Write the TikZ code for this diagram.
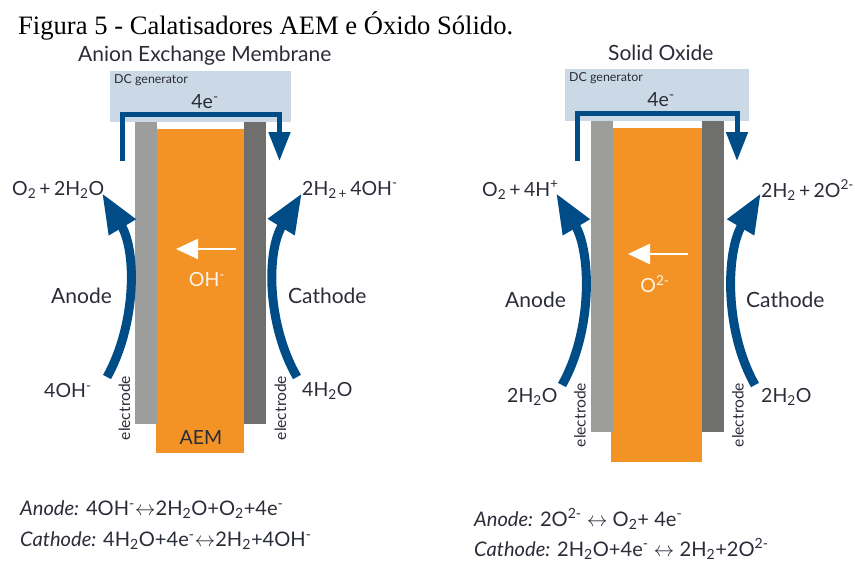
\documentclass[tikz,border=0pt]{standalone}
\usepackage{fontspec}
\setmainfont{Lato}
\newfontfamily\capfont{Liberation Serif}
\usepackage{xcolor}
\usetikzlibrary{arrows.meta,positioning}
\definecolor{flowblue}{HTML}{004C86}
\definecolor{memorange}{HTML}{F39325}
\definecolor{dcblue}{HTML}{CBD9E7}
\definecolor{elecA}{HTML}{9D9D9C}
\definecolor{elecC}{HTML}{6F6F6E}
\definecolor{inkdark}{HTML}{2A2C38}
\tikzset{plate/.style={anchor=north west,inner sep=0pt,outer sep=0pt},
  lab/.style={anchor=west,inner sep=0pt,text=inkdark,font=\fontsize{19.5}{21}\selectfont},
  word/.style={lab,font=\fontsize{21}{23}\selectfont},
  eqn/.style={lab,font=\fontsize{20.1}{22}\selectfont},
  dclab/.style={lab,font=\fontsize{12.4}{14}\selectfont},
  elab/.style={rotate=90,inner sep=0pt,text=inkdark,font=\fontsize{15.6}{17}\selectfont},
  wire/.style={draw=flowblue,line width=5pt,-{Triangle[length=29pt,width=21pt]}},
  flow/.style={draw=flowblue,line width=9pt,-{Triangle[length=40pt,width=29pt]}},
  ion/.style={draw=white,line width=2.4pt,-{Triangle[length=22pt,width=20pt]}}}

\begin{document}
\begin{tikzpicture}[x=1pt,y=-1pt]
\useasboundingbox (0,0) rectangle (855,562);
\node[anchor=west,inner sep=0pt,font=\capfont\fontsize{26.6}{28}\selectfont] (cap) at (18,26) {Figura 5 - Calatisadores AEM e Óxido Sólido.};
% anion exchange membrane
\node[word] (titleA) at (78,56) {Anion Exchange Membrane};
\node[plate,fill=dcblue,minimum width=181pt,minimum height=51pt] (dcA) at (110,71) {};
\node[plate,fill=memorange,minimum width=88pt,minimum height=324pt] (aem) at (156,129) {};
\node[plate,fill=elecA,minimum width=22pt,minimum height=302pt] (anA) at (135,122) {};
\node[plate,fill=elecC,minimum width=22pt,minimum height=302pt] (caA) at (244,122) {};
\node[dclab] (dclabA) at (114,80) {DC generator};
\node[lab,anchor=center] (eA) at (205,102) {4e\textsuperscript{-}};
\coordinate (w1A) at (122,161); \coordinate (w2A) at (122,114);
\coordinate (w3A) at (279.5,114); \coordinate (w4A) at (279.5,161);
\draw[wire] (w1A) -- (w2A) -- (w3A) -- (w4A);
\node[lab] (prodAnA) at (12,190) {O\textsubscript{2}\,+\,2H\textsubscript{2}O};
\node[lab] (prodCaA) at (302,190) {2H\textsubscript{2\,+}\,4OH\textsuperscript{-}};
\node[lab] (reacAnA) at (44,391) {4OH\textsuperscript{-}};
\node[lab] (reacCaA) at (302,391) {4H\textsubscript{2}O};
\node[word] (anodeA) at (51,296) {Anode};
\node[word] (cathA) at (288,296) {Cathode};
\coordinate (tailAnA) at (107,377); \coordinate (tipAnA) at (102,193);
\coordinate (tailCaA) at (297,377); \coordinate (tipCaA) at (302,193);
\draw[flow] (tailAnA) .. controls (136,325) and (137,252) .. (tipAnA);
\draw[flow] (tailCaA) .. controls (267,325) and (266,252) .. (tipCaA);
\coordinate (ionTailA) at (236,249); \coordinate (ionTipA) at (176,249);
\draw[ion] (ionTailA) -- (ionTipA);
\node[lab,anchor=center,text=white!90!memorange] (ionA) at (207,280) {OH\textsuperscript{-}};
\node[lab,anchor=center] (memA) at (201,438) {AEM};
\node[elab] (elecAnA) at (124.5,408) {electrode};
\node[elab] (elecCaA) at (280.5,408) {electrode};
\node[eqn] (eqAnA) at (20,510) {\textit{Anode:} 4OH\textsuperscript{-}$\leftrightarrow$2H\textsubscript{2}O+O\textsubscript{2}+4e\textsuperscript{-}};
\node[eqn] (eqCaA) at (20,541) {\textit{Cathode:} 4H\textsubscript{2}O+4e\textsuperscript{-}$\leftrightarrow$2H\textsubscript{2}+4OH\textsuperscript{-}};
% solid oxide
\node[word] (titleS) at (608,53) {Solid Oxide};
\node[plate,fill=dcblue,minimum width=184pt,minimum height=52pt] (dcS) at (565,69) {};
\node[plate,fill=memorange,minimum width=91pt,minimum height=334pt] (oxide) at (611,128) {};
\node[plate,fill=elecA,minimum width=22pt,minimum height=311pt] (anS) at (591,121) {};
\node[plate,fill=elecC,minimum width=22pt,minimum height=311pt] (caS) at (702,121) {};
\node[dclab] (dclabS) at (569,78) {DC generator};
\node[lab,anchor=center] (eS) at (661,100) {4e\textsuperscript{-}};
\coordinate (w1S) at (577,161); \coordinate (w2S) at (577,113);
\coordinate (w3S) at (737,113); \coordinate (w4S) at (737,161);
\draw[wire] (w1S) -- (w2S) -- (w3S) -- (w4S);
\node[lab] (prodAnS) at (482,190) {O\textsubscript{2}\,+\,4H\textsuperscript{+}};
\node[lab] (prodCaS) at (761,190) {2H\textsubscript{2}\,+\,2O\textsuperscript{2-}};
\node[lab] (reacAnS) at (507,397) {2H\textsubscript{2}O};
\node[lab] (reacCaS) at (761,397) {2H\textsubscript{2}O};
\node[word] (anodeS) at (505,300) {Anode};
\node[word] (cathS) at (746,300) {Cathode};
\coordinate (tailAnS) at (562,385); \coordinate (tipAnS) at (556,193);
\coordinate (tailCaS) at (755,385); \coordinate (tipCaS) at (761,193);
\draw[flow] (tailAnS) .. controls (593,330) and (591,252) .. (tipAnS);
\draw[flow] (tailCaS) .. controls (724,330) and (726,252) .. (tipCaS);
\coordinate (ionTailS) at (688,254); \coordinate (ionTipS) at (628,254);
\draw[ion] (ionTailS) -- (ionTipS);
\node[lab,anchor=center,text=white!90!memorange] (ionS) at (655,284) {O\textsuperscript{2-}};
\node[elab] (elecAnS) at (580,415) {electrode};
\node[elab] (elecCaS) at (738,415) {electrode};
\node[eqn] (eqAnS) at (474,519) {\textit{Anode:} 2O\textsuperscript{2-} $\leftrightarrow$ O\textsubscript{2}+ 4e\textsuperscript{-}};
\node[eqn] (eqCaS) at (474,549) {\textit{Cathode:} 2H\textsubscript{2}O+4e\textsuperscript{-} $\leftrightarrow$ 2H\textsubscript{2}+2O\textsuperscript{2-}};
\end{tikzpicture}
\end{document}
